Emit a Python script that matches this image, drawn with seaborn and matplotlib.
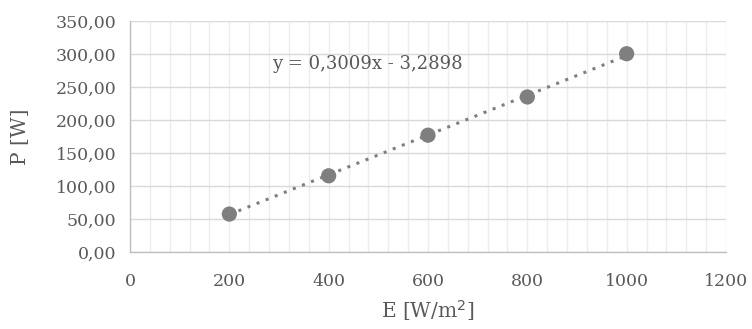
import matplotlib
matplotlib.use("Agg")
import matplotlib.pyplot as plt
import seaborn as sns
import numpy as np
import pandas as pd
from matplotlib.ticker import MultipleLocator, FuncFormatter

E_values = [200, 400, 600, 800, 1000]
P_values = [57.5, 115.5, 177.0, 235.0, 300.5]
slope = 0.3009
intercept = -3.2898
equation_text = "y = 0,3009x - 3,2898"

sns.set_theme(style="white")
plt.rcParams['font.family'] = ['DejaVu Serif', 'Liberation Serif']

df = pd.DataFrame({"E": E_values, "P": P_values})
trend_x = [min(E_values), max(E_values)]
trend = pd.DataFrame({"E": trend_x, "P": [slope * v + intercept for v in trend_x]})

fig = plt.figure(figsize=(7.52, 3.29), dpi=100)
ax = fig.add_axes([0.1729, 0.234, 0.7925, 0.702])

gray = "#7f7f7f"
text_col = "#595959"

sns.lineplot(data=trend, x="E", y="P", ax=ax, color=gray, linestyle=(0, (1, 2.2)),
             linewidth=2.2, zorder=3)
sns.scatterplot(data=df, x="E", y="P", ax=ax, color=gray, s=120, edgecolor="none", zorder=4)

ax.set_xlim(0, 1200)
ax.set_ylim(0, 350)
ax.xaxis.set_major_locator(MultipleLocator(200))
ax.xaxis.set_minor_locator(MultipleLocator(40))
ax.yaxis.set_major_locator(MultipleLocator(50))
ax.yaxis.set_major_formatter(FuncFormatter(lambda v, p: f"{v:.2f}".replace(".", ",")))

ax.grid(True, which="major", axis="y", color="#d9d9d9", linewidth=1.0, zorder=0)
ax.grid(True, which="both", axis="x", color="#ececec", linewidth=1.0, zorder=0)
ax.set_axisbelow(True)

for s in ["top", "right"]:
    ax.spines[s].set_visible(False)
for s in ["left", "bottom"]:
    ax.spines[s].set_color("#bfbfbf")
    ax.spines[s].set_linewidth(1.0)

ax.tick_params(axis="y", which="major", direction="out", length=5, width=1,
               color="#bfbfbf", labelsize=12.5, labelcolor=text_col, pad=5)
ax.tick_params(axis="x", which="major", direction="inout", length=10, width=1,
               color="#bfbfbf", labelsize=12.5, labelcolor=text_col, pad=10)
ax.tick_params(axis="x", which="minor", length=0)

ax.set_xlabel("E [W/m$^2$]", fontsize=14.5, color=text_col, labelpad=6)
ax.set_ylabel("P [W]", fontsize=14.5, color=text_col, labelpad=18)

ax.text(286, 285, equation_text, fontsize=13, color=text_col, va="center", ha="left")

fig.savefig("out.png", dpi=100)
